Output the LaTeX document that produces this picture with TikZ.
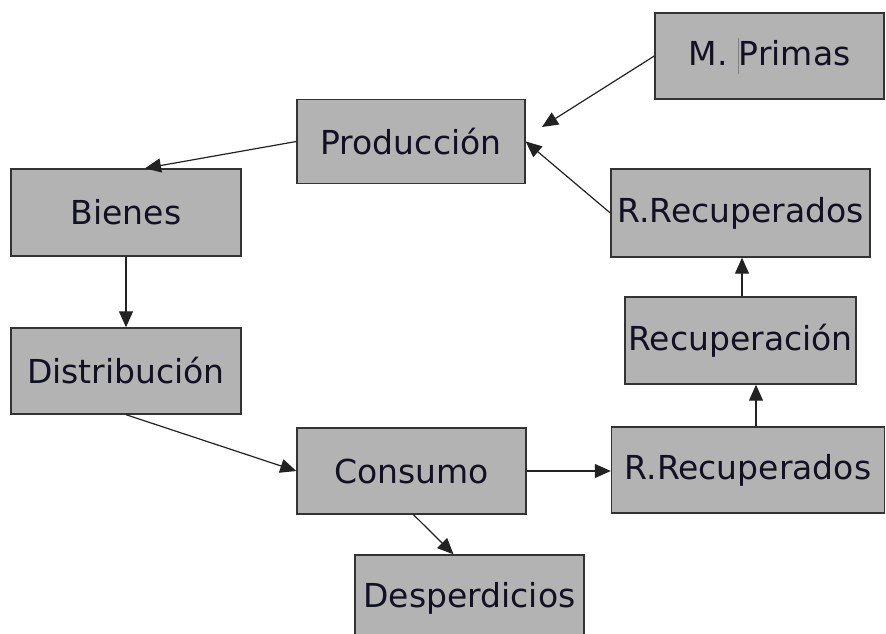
\documentclass[tikz,border=0pt]{standalone}
\usepackage{fontspec}
\setmainfont{DejaVu Sans}
\usepackage{xcolor}
\usetikzlibrary{positioning,arrows.meta,calc}
\definecolor{cjgris}{HTML}{B3B3B3}
\definecolor{cjborde}{HTML}{333333}
\definecolor{cjtexto}{HTML}{111122}
\definecolor{cjflecha}{HTML}{222222}
\tikzset{
  caja/.style={draw=cjborde,line width=1.4pt,fill=cjgris,text=cjtexto,inner sep=0pt},
  flecha/.style={draw=cjflecha,line width=1.2pt,-{Triangle[length=16pt,width=14pt]}}
}
\begin{document}
\begin{tikzpicture}[x=1pt,y=-1pt,font=\fontsize{33}{37}\selectfont]
  \useasboundingbox (0,0) rectangle (886,634);
  \foreach \nombre/\x/\y/\w/\h/\texto in {
      primas/769.5/56/229/86/{M. {\color{gray}\rule[-0.25em]{0.8pt}{1.1em}}Primas},
      produccion/411/141.5/228/84/{Producción},
      bienes/126/212.5/230/87/{Bienes},
      distribucion/126/371/230/86/{Distribución},
      consumo/411.5/471/229/86/{Consumo},
      desperdicios/469.5/598/229/86/{Desperdicios},
      rreca/740.5/213/259/88/{R.Recuperados},
      recuperacion/740.5/340.5/231/87/{Recuperación},
      rrecb/748/470/273/86/{R.Recuperados}} {
    \node[caja,minimum width=\w pt,minimum height=\h pt] (\nombre) at (\x,\y) {\texto};
  }
  \coordinate (llegada) at (542,127);
  \draw[flecha] (primas.west) -- (llegada);
  \draw[flecha] (rreca.west) -- (produccion.east);
  \draw[flecha] (produccion.west) -- ([xshift=19pt]bienes.north);
  \draw[flecha] (bienes.south) -- (distribucion.north);
  \draw[flecha] (distribucion.south) -- (consumo.west);
  \draw[flecha] (consumo.east) -- (consumo.east -| rrecb.west);
  \draw[flecha] ([xshift=8pt]rrecb.north) -- ([xshift=8pt]rrecb.north |- recuperacion.south);
  \draw[flecha] ([xshift=1.5pt]recuperacion.north) -- ([xshift=1.5pt]recuperacion.north |- rreca.south);
  \draw[flecha] ([xshift=2pt]consumo.south) -- ([xshift=-16pt]desperdicios.north);
\end{tikzpicture}
\end{document}
